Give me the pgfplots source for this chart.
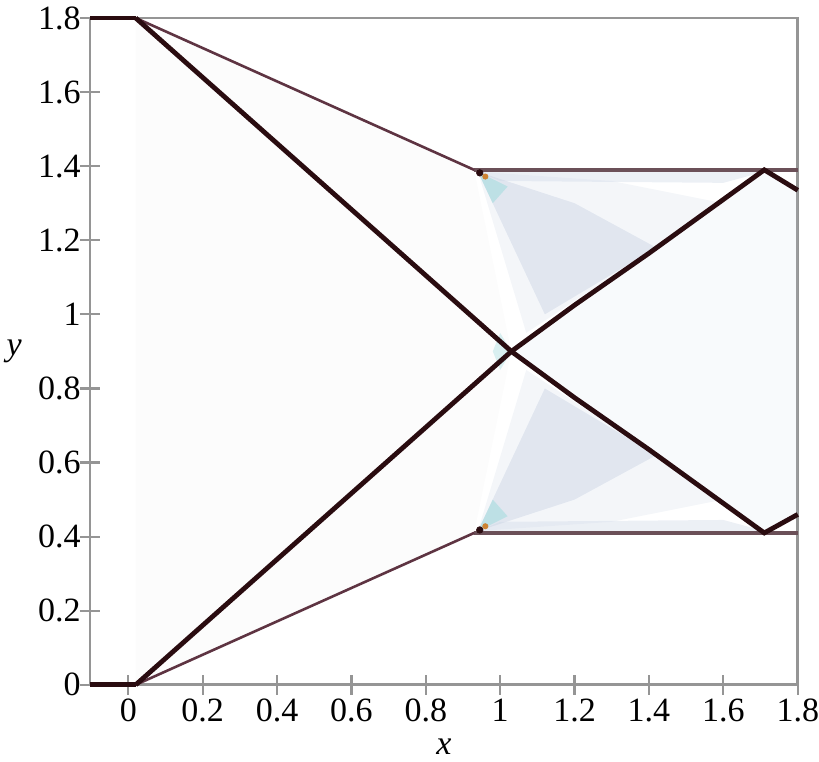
\documentclass[border=0pt]{standalone}
\usepackage{fontspec}
\setmainfont{Liberation Serif}
\usepackage{pgfplots}
\pgfplotsset{compat=1.18}
\definecolor{shock}{HTML}{2A0C10}
\definecolor{slip}{HTML}{5E3442}
\definecolor{wall}{HTML}{6B5058}
\definecolor{fan}{HTML}{C9D3E3}
\definecolor{fancyan}{HTML}{A6DCE0}
\definecolor{axgray}{HTML}{959595}
\begin{document}
\begin{tikzpicture}
\begin{axis}[
    scale only axis, width=354pt, height=333.5pt,
    xmin=-0.103, xmax=1.8, ymin=0, ymax=1.8,
    xtick={0,0.2,0.4,0.6,0.8,1,1.2,1.4,1.6,1.8},
    ytick={0,0.2,0.4,0.6,0.8,1,1.2,1.4,1.6,1.8},
    xtick pos=bottom, ytick pos=left,
    tick align=center, major tick length=10pt,
    axis line style={axgray, line width=1.4pt},
    tick style={axgray, line width=1.1pt},
    font=\rmfamily\fontsize{17}{20}\selectfont,
    tick label style={font=\rmfamily\fontsize{17}{20}\selectfont},
    /pgf/number format/assume math mode=true,
    yticklabel style={inner sep=0pt, xshift=0.5pt},
    xticklabel style={inner sep=0pt, yshift=-2pt},
    xlabel={\textit{x}}, ylabel={\textit{y}},
    xlabel style={at={(axis description cs:0.5,0)}, anchor=center, yshift=-31pt},
    ylabel style={rotate=-90, at={(axis description cs:-0.107,0.5)}, anchor=center},
    clip=false,
]
  % room above the top tick label
  \path (rel axis cs:0,1) ++(0,9pt);
  % faint background between the waves
  \addplot[draw=none, fill=black, fill opacity=0.012] coordinates
    {(0.02,1.8) (0.93,1.39) (1.03,0.9) (0.93,0.41) (0.02,0)} -- cycle;
  \addplot[draw=none, fill=fan, fill opacity=0.12] coordinates
    {(1.03,0.9) (1.71,1.39) (1.8,1.33) (1.8,0.46) (1.71,0.41)} -- cycle;
  % bands under the walls
  \addplot[draw=none, fill=fan, fill opacity=0.35] coordinates
    {(0.94,1.385) (1.71,1.385) (1.6,1.355) (1.0,1.36)} -- cycle;
  \addplot[draw=none, fill=fan, fill opacity=0.35] coordinates
    {(0.94,0.415) (1.71,0.415) (1.6,0.445) (1.0,0.44)} -- cycle;
  % expansion fans from the corners, outer and inner
  \addplot[draw=none, fill=fan, fill opacity=0.2] coordinates
    {(0.94,1.385) (1.07,0.95) (1.6,1.30) (1.3,1.36)} -- cycle;
  \addplot[draw=none, fill=fan, fill opacity=0.2] coordinates
    {(0.94,0.415) (1.07,0.85) (1.6,0.50) (1.3,0.44)} -- cycle;
  \addplot[draw=none, fill=fan, fill opacity=0.45] coordinates
    {(0.94,1.385) (1.12,1.0) (1.42,1.18) (1.2,1.3)} -- cycle;
  \addplot[draw=none, fill=fan, fill opacity=0.45] coordinates
    {(0.94,0.415) (1.12,0.8) (1.42,0.62) (1.2,0.5)} -- cycle;
  \addplot[draw=none, fill=fancyan, fill opacity=0.6] coordinates
    {(0.94,1.385) (0.98,1.30) (1.02,1.345)} -- cycle;
  \addplot[draw=none, fill=fancyan, fill opacity=0.6] coordinates
    {(0.94,0.415) (0.98,0.50) (1.02,0.455)} -- cycle;
  \addplot[draw=none, fill=fancyan, fill opacity=0.4] coordinates
    {(1.0,0.95) (1.03,0.9) (1.0,0.85) (0.98,0.9)} -- cycle;
  % walls
  \addplot[wall, line width=2.2pt] coordinates {(0.93,1.39) (1.8,1.39)};
  \addplot[wall, line width=2.2pt] coordinates {(0.93,0.41) (1.8,0.41)};
  \addplot[shock, line width=2.4pt] coordinates {(-0.103,1.8) (0.02,1.8)};
  \addplot[shock, line width=2.4pt] coordinates {(-0.103,0) (0.02,0)};
  % slip lines
  \addplot[slip, line width=1.3pt] coordinates {(0.02,1.8) (0.93,1.39)};
  \addplot[slip, line width=1.3pt] coordinates {(0.02,0) (0.93,0.41)};
  % shocks
  \addplot[shock, line width=2.4pt] coordinates
    {(0.02,1.8) (1.03,0.9) (1.2,0.775) (1.4,0.635) (1.71,0.41) (1.8,0.46)};
  \addplot[shock, line width=2.4pt] coordinates
    {(0.02,0) (1.03,0.9) (1.2,1.025) (1.4,1.165) (1.71,1.39) (1.8,1.335)};
  % corner spots
  \addplot[only marks, mark=*, mark size=1.6pt, color=shock]
    coordinates {(0.945,1.382) (0.945,0.418)};
  \addplot[only marks, mark=*, mark size=1.3pt, color={rgb,255:red,205;green,130;blue,50}]
    coordinates {(0.96,1.372) (0.96,0.428)};
\end{axis}
\end{tikzpicture}
\end{document}
